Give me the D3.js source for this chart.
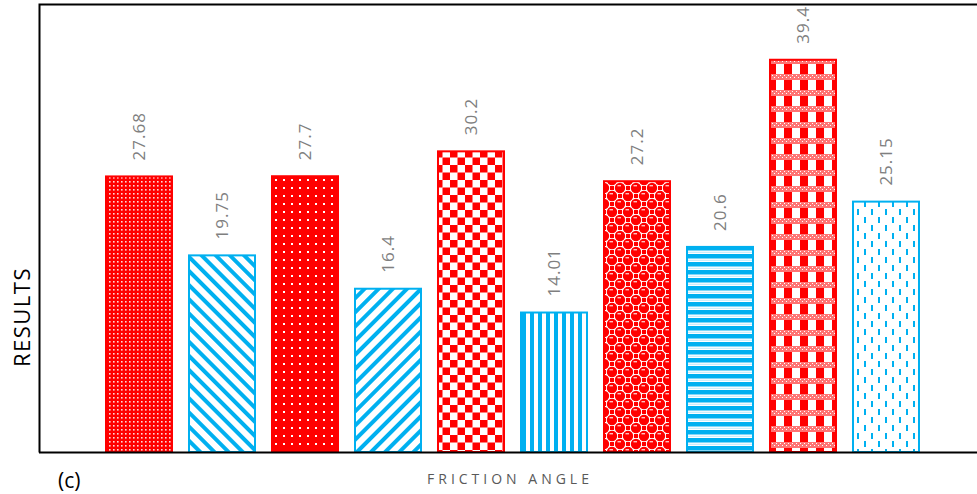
<!DOCTYPE html>
<html><head><meta charset="utf-8">
<script src="https://cdn.jsdelivr.net/npm/d3@7"></script>
<style>body{margin:0;background:#fff}svg{display:block}</style>
</head><body>
<svg id="c" width="977" height="494"></svg>
<script>
const categories = ["A1","A2","A3","A4","A5","A6","A7","A8","A9","A10"];
const values = [27.68, 19.75, 27.7, 16.4, 30.2, 14.01, 27.2, 20.6, 39.4, 25.15];
const labels = ["27.68","19.75","27.7","16.4","30.2","14.01","27.2","20.6","39.4","25.15"];
const colorKey = ["red","blue","red","blue","red","blue","red","blue","red","blue"];
const patternKey = ["p1","p2","p3","p4","p5","p6","p7","p8","p9","p10"];

const RED="#FF0000", BLUE="#00B0F0";
const svg = d3.select("#c");
const defs = svg.append("defs");
function pat(id,w,h){return defs.append("pattern").attr("id",id).attr("patternUnits","userSpaceOnUse").attr("width",w).attr("height",h);}
// p1 fine dots
let p=pat("p1",4,4); p.append("rect").attr("width",4).attr("height",4).attr("fill",RED);
p.append("rect").attr("x",1).attr("y",1).attr("width",1.6).attr("height",1.6).attr("fill","#fff").attr("opacity",0.85);
// p2 "\" stripes
p=pat("p2",10,10).attr("patternTransform","rotate(-45)"); p.append("rect").attr("width",10).attr("height",10).attr("fill","#fff");
p.append("rect").attr("width",4).attr("height",10).attr("fill",BLUE);
// p3 sparse dots
p=pat("p3",8,8); p.append("rect").attr("width",8).attr("height",8).attr("fill",RED);
p.append("rect").attr("x",3).attr("y",3).attr("width",2).attr("height",2).attr("fill","#fff");
// p4 "/" stripes
p=pat("p4",10,10).attr("patternTransform","rotate(45)"); p.append("rect").attr("width",10).attr("height",10).attr("fill","#fff");
p.append("rect").attr("width",4).attr("height",10).attr("fill",BLUE);
// p5 checkerboard
p=pat("p5",15,15); p.append("rect").attr("width",15).attr("height",15).attr("fill","#fff");
p.append("rect").attr("width",7.5).attr("height",7.5).attr("fill",RED);
p.append("rect").attr("x",7.5).attr("y",7.5).attr("width",7.5).attr("height",7.5).attr("fill",RED);
// p6 vertical stripes
p=pat("p6",8,8); p.append("rect").attr("width",8).attr("height",8).attr("fill","#fff");
p.append("rect").attr("x",2).attr("width",4).attr("height",8).attr("fill",BLUE);
// p7 spheres
p=pat("p7",16,16); p.append("rect").attr("width",16).attr("height",16).attr("fill","#fff");
[[12,4],[4,12]].forEach(([cx,cy])=>{
  p.append("rect").attr("x",cx-2).attr("y",cy-2).attr("width",4).attr("height",4).attr("fill",RED);
});
[[4,4],[12,12],[20,4],[-4,12],[4,20],[12,-4]].forEach(([cx,cy])=>{
  p.append("circle").attr("cx",cx).attr("cy",cy).attr("r",5.2).attr("fill",RED);
  p.append("rect").attr("x",cx-2.5).attr("y",cy-3).attr("width",3.5).attr("height",1.4).attr("fill","#fff").attr("opacity",0.75);
});
// p8 horizontal stripes
p=pat("p8",8,8); p.append("rect").attr("width",8).attr("height",8).attr("fill",BLUE);
p.append("rect").attr("y",2.5).attr("width",8).attr("height",3.5).attr("fill","#fff");
p.append("rect").attr("y",3.8).attr("width",8).attr("height",1).attr("fill","#bfeafb");
// p9 plaid
p=pat("p9",16,16); p.append("rect").attr("width",16).attr("height",16).attr("fill","#fff");
p.append("rect").attr("x",0).attr("y",0).attr("width",8).attr("height",10).attr("fill",RED);
p.append("rect").attr("x",0).attr("y",10).attr("width",16).attr("height",6).attr("fill",RED).attr("opacity",0.55);
for(let i=0;i<8;i++){p.append("rect").attr("x",i*2).attr("y",11+(i%2)*2).attr("width",1).attr("height",1).attr("fill","#fff");}
// p10 dashes
p=pat("p10",14,16); p.append("rect").attr("width",14).attr("height",16).attr("fill","#fff");
p.append("rect").attr("x",3).attr("y",1).attr("width",2).attr("height",6).attr("fill",BLUE);
p.append("rect").attr("x",10).attr("y",9).attr("width",2).attr("height",6).attr("fill",BLUE);

const x = d3.scaleBand().domain(categories).range([97.5,927.5]).paddingInner(0.205).paddingOuter(0.1025);
const y = d3.scaleLinear().domain([0,45]).range([452,4]);

const color = k => k==="red"?RED:BLUE;
svg.selectAll("rect.bar").data(values).join("rect").attr("class","bar")
  .attr("x",(d,i)=>x(categories[i])).attr("width",x.bandwidth())
  .attr("y",d=>y(d)).attr("height",d=>y(0)-y(d))
  .attr("fill",(d,i)=>`url(#${patternKey[i]})`)
  .attr("stroke",(d,i)=>color(colorKey[i])).attr("stroke-width",2);

svg.selectAll("text.lbl").data(values).join("text").attr("class","lbl")
  .attr("transform",(d,i)=>`translate(${x(categories[i])+x.bandwidth()/2+6},${y(d)-16}) rotate(-90)`)
  .attr("font-family","Open Sans, sans-serif").attr("font-size",17).attr("letter-spacing",1).attr("fill","#7f7f7f")
  .text((d,i)=>labels[i]);

// frame
svg.append("path").attr("d","M39.5,452.5V4.5H977").attr("fill","none").attr("stroke","#000").attr("stroke-width",2);
svg.append("path").attr("d","M39,452.5H977").attr("stroke","#000").attr("stroke-width",2);

svg.append("text").attr("transform","translate(30,317) rotate(-90)").attr("text-anchor","middle")
  .attr("font-family","Open Sans, sans-serif").attr("font-size",22).attr("letter-spacing",1.5).attr("fill","#000").text("RESULTS");
svg.append("text").attr("x",510).attr("y",484).attr("text-anchor","middle")
  .attr("font-family","Open Sans, sans-serif").attr("font-size",14).attr("letter-spacing",4).attr("fill","#595959").text("FRICTION ANGLE");
svg.append("text").attr("x",58).attr("y",488).attr("font-family","Open Sans, sans-serif").attr("font-size",21).attr("fill","#000").text("(c)");
</script>
</body></html>
